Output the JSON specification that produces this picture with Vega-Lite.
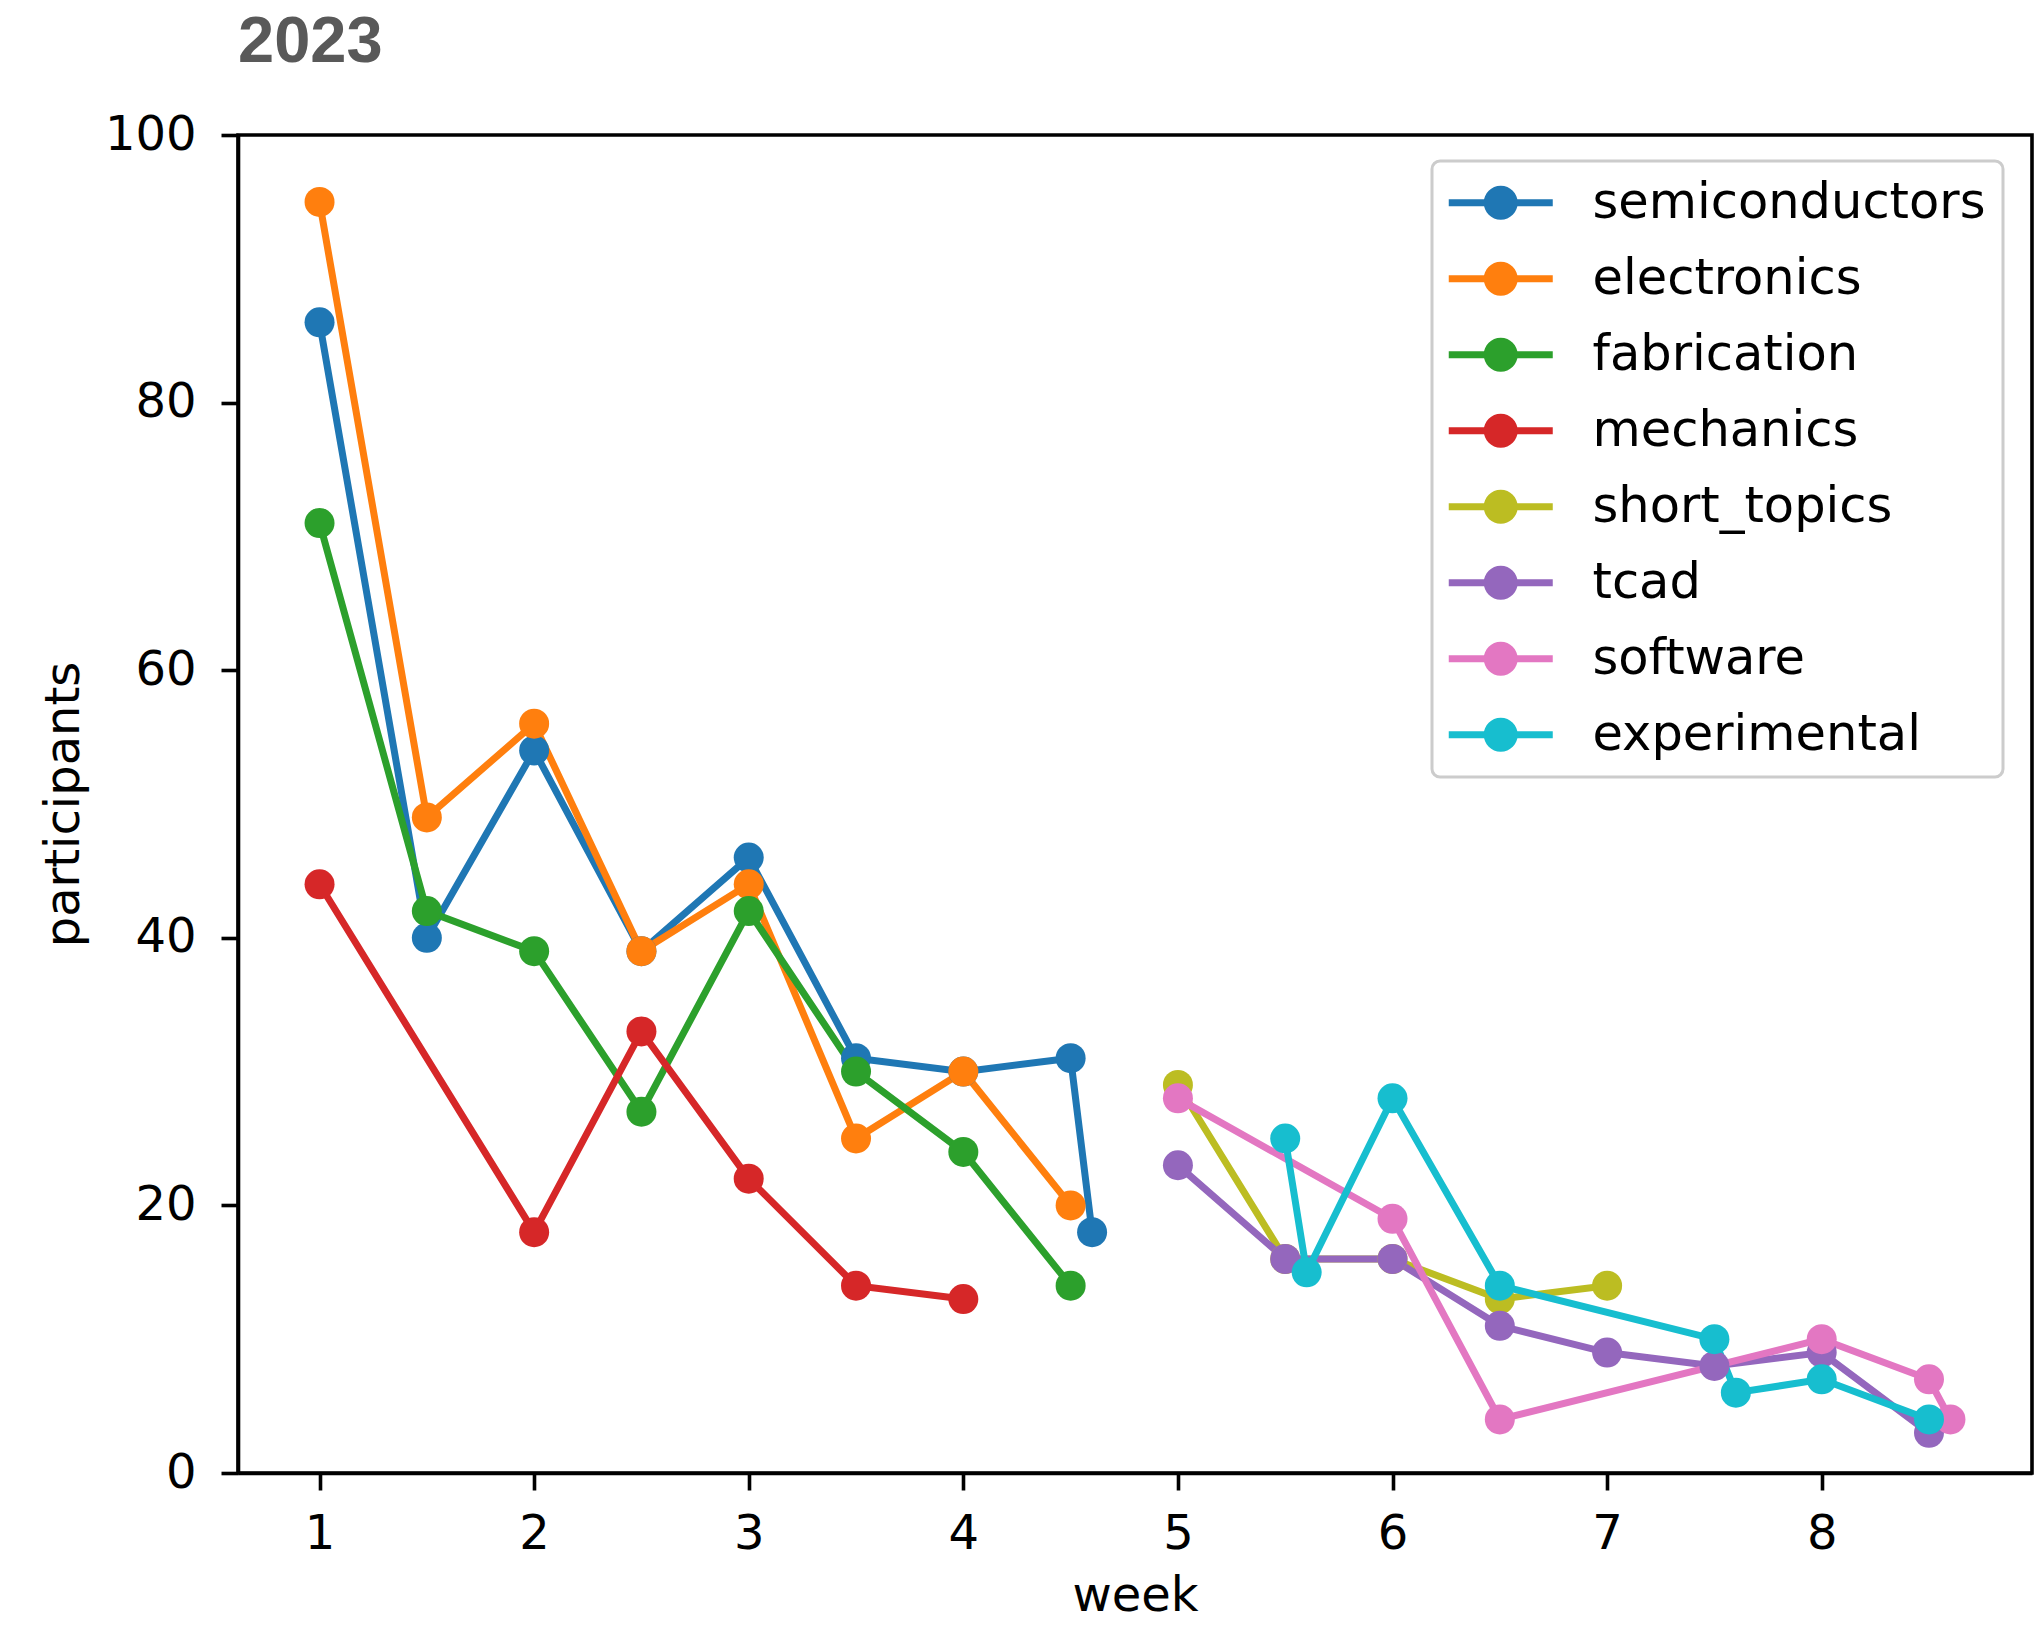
{
  "$schema": "https://vega.github.io/schema/vega-lite/v6.json",
  "autosize": {"type": "none"},
  "padding": {"left": 238, "top": 135, "right": 6, "bottom": 157},
  "width": 1794,
  "height": 1338,
  "title": {"text": "2023", "anchor": "start", "frame": "group", "font": "Liberation Sans", "fontSize": 65, "fontWeight": "bold", "color": "#595959", "offset": -16, "baseline": "alphabetic"},
  "data": {"values": [
    {"topic": "semiconductors", "week": 1, "participants": 86},
    {"topic": "semiconductors", "week": 1.5, "participants": 40},
    {"topic": "semiconductors", "week": 2, "participants": 54},
    {"topic": "semiconductors", "week": 2.5, "participants": 39},
    {"topic": "semiconductors", "week": 3, "participants": 46},
    {"topic": "semiconductors", "week": 3.5, "participants": 31},
    {"topic": "semiconductors", "week": 4, "participants": 30},
    {"topic": "semiconductors", "week": 4.5, "participants": 31},
    {"topic": "semiconductors", "week": 4.6, "participants": 18},
    {"topic": "electronics", "week": 1, "participants": 95},
    {"topic": "electronics", "week": 1.5, "participants": 49},
    {"topic": "electronics", "week": 2, "participants": 56},
    {"topic": "electronics", "week": 2.5, "participants": 39},
    {"topic": "electronics", "week": 3, "participants": 44},
    {"topic": "electronics", "week": 3.5, "participants": 25},
    {"topic": "electronics", "week": 4, "participants": 30},
    {"topic": "electronics", "week": 4.5, "participants": 20},
    {"topic": "fabrication", "week": 1, "participants": 71},
    {"topic": "fabrication", "week": 1.5, "participants": 42},
    {"topic": "fabrication", "week": 2, "participants": 39},
    {"topic": "fabrication", "week": 2.5, "participants": 27},
    {"topic": "fabrication", "week": 3, "participants": 42},
    {"topic": "fabrication", "week": 3.5, "participants": 30},
    {"topic": "fabrication", "week": 4, "participants": 24},
    {"topic": "fabrication", "week": 4.5, "participants": 14},
    {"topic": "mechanics", "week": 1, "participants": 44},
    {"topic": "mechanics", "week": 2, "participants": 18},
    {"topic": "mechanics", "week": 2.5, "participants": 33},
    {"topic": "mechanics", "week": 3, "participants": 22},
    {"topic": "mechanics", "week": 3.5, "participants": 14},
    {"topic": "mechanics", "week": 4, "participants": 13},
    {"topic": "short_topics", "week": 5, "participants": 29},
    {"topic": "short_topics", "week": 5.5, "participants": 16},
    {"topic": "short_topics", "week": 6, "participants": 16},
    {"topic": "short_topics", "week": 6.5, "participants": 13},
    {"topic": "short_topics", "week": 7, "participants": 14},
    {"topic": "tcad", "week": 5, "participants": 23},
    {"topic": "tcad", "week": 5.5, "participants": 16},
    {"topic": "tcad", "week": 6, "participants": 16},
    {"topic": "tcad", "week": 6.5, "participants": 11},
    {"topic": "tcad", "week": 7, "participants": 9},
    {"topic": "tcad", "week": 7.5, "participants": 8},
    {"topic": "tcad", "week": 8, "participants": 9},
    {"topic": "tcad", "week": 8.5, "participants": 3},
    {"topic": "software", "week": 5, "participants": 28},
    {"topic": "software", "week": 6, "participants": 19},
    {"topic": "software", "week": 6.5, "participants": 4},
    {"topic": "software", "week": 8, "participants": 10},
    {"topic": "software", "week": 8.5, "participants": 7},
    {"topic": "software", "week": 8.6, "participants": 4},
    {"topic": "experimental", "week": 5.5, "participants": 25},
    {"topic": "experimental", "week": 5.6, "participants": 15},
    {"topic": "experimental", "week": 6, "participants": 28},
    {"topic": "experimental", "week": 6.5, "participants": 14},
    {"topic": "experimental", "week": 7.5, "participants": 10},
    {"topic": "experimental", "week": 7.6, "participants": 6},
    {"topic": "experimental", "week": 8, "participants": 7},
    {"topic": "experimental", "week": 8.5, "participants": 4}
  ]},
  "encoding": {
    "x": {"field": "week", "type": "quantitative", "scale": {"domain": [0.62, 8.98], "nice": false, "zero": false},
          "axis": {"values": [1, 2, 3, 4, 5, 6, 7, 8], "format": "d", "title": "week", "labelAngle": 0, "labelPadding": 20, "titlePadding": 14}},
    "y": {"field": "participants", "type": "quantitative", "scale": {"domain": [0, 100], "nice": false},
          "axis": {"values": [0, 20, 40, 60, 80, 100], "title": "participants", "labelPadding": 25, "titlePadding": 16}},
    "color": {"field": "topic", "type": "nominal",
              "scale": {"domain": ["semiconductors", "electronics", "fabrication", "mechanics", "short_topics", "tcad", "software", "experimental"],
                        "range": ["#1f77b4", "#ff7f0e", "#2ca02c", "#d62728", "#bcbd22", "#9467bd", "#e377c2", "#17becf"]},
              "legend": {"title": null, "orient": "none", "legendX": 1194, "legendY": 26}}
  },
  "layer": [
    {"mark": {"type": "line", "strokeWidth": 7}},
    {"mark": {"type": "point", "filled": true, "opacity": 1, "size": 900, "strokeWidth": 0}}
  ],
  "config": {
    "font": "DejaVu Sans",
    "view": {"stroke": "black", "strokeWidth": 3.6},
    "axis": {"grid": false, "domainColor": "black", "domainWidth": 3.6, "tickColor": "black", "tickWidth": 3.6, "tickSize": 17,
             "labelFont": "DejaVu Sans", "labelFontSize": 48, "labelColor": "black",
             "titleFont": "DejaVu Sans", "titleFontSize": 48, "titleFontWeight": "normal", "titleColor": "black"},
    "legend": {"padding": 17, "strokeColor": "#cccccc", "strokeWidth": 3, "fillColor": "rgba(255,255,255,0.8)", "cornerRadius": 8,
               "labelFont": "DejaVu Sans", "labelFontSize": 49.5, "labelColor": "black", "rowPadding": 25, "labelOffset": 102, "labelLimit": 0,
               "symbolType": "M-1,-0.206 L5.118,-0.206 L5.118,0.206 L-1,0.206 Z M1.059,0 A1,1 0 1 1 3.059,0 A1,1 0 1 1 1.059,0 Z",
               "symbolSize": 1156, "symbolOffset": -8, "symbolStrokeWidth": 0, "symbolOpacity": 1}
  }
}
